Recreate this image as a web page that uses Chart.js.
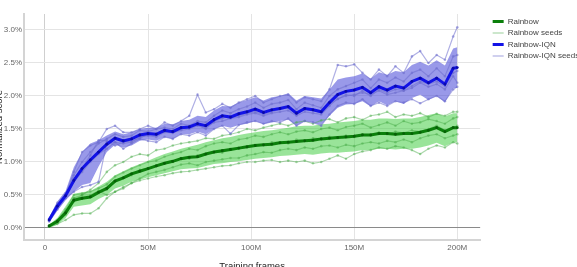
<!DOCTYPE html>
<html>
<head>
<meta charset="utf-8">
<script src="https://cdn.jsdelivr.net/npm/chart.js@4.4.1/dist/chart.umd.min.js"></script>
<style>
html,body{margin:0;padding:0;background:#fff;overflow:hidden;}
#wrap{position:relative;width:577px;height:267px;overflow:hidden;background:#fff;}
#c{position:absolute;left:0;top:0;}
</style>
</head>
<body>
<div id="wrap"><canvas id="c" width="587" height="272"></canvas></div>
<script>
// Training frames (millions)
const frames = [2,6,10,14,18,22,26,30,34,38,42,46,50,54,58,62,66,70,74,78,82,86,90,94,98,102,106,110,114,118,122,126,130,134,138,142,146,150,154,158,162,166,170,174,178,182,186,190,194,198,200];

// Rainbow (normalized score, %)
const rainbowMean = [0.03,0.10,0.23,0.42,0.45,0.47,0.54,0.60,0.71,0.76,0.82,0.86,0.90,0.94,0.98,1.01,1.05,1.07,1.08,1.12,1.15,1.17,1.19,1.21,1.23,1.25,1.26,1.27,1.29,1.30,1.31,1.32,1.33,1.35,1.36,1.37,1.38,1.39,1.41,1.41,1.43,1.43,1.42,1.43,1.43,1.45,1.48,1.52,1.46,1.52,1.52];
const rainbowLow = [0.00,0.05,0.15,0.32,0.34,0.36,0.44,0.50,0.60,0.64,0.70,0.73,0.77,0.80,0.83,0.86,0.89,0.90,0.91,0.94,0.97,0.98,1.00,1.01,1.03,1.05,1.06,1.07,1.09,1.10,1.11,1.12,1.11,1.13,1.14,1.14,1.15,1.16,1.18,1.18,1.20,1.20,1.19,1.20,1.20,1.22,1.25,1.29,1.24,1.30,1.30];
const rainbowHigh = [0.05,0.15,0.33,0.52,0.54,0.56,0.63,0.70,0.80,0.86,0.92,0.97,1.02,1.07,1.12,1.16,1.20,1.23,1.26,1.30,1.33,1.36,1.38,1.41,1.43,1.45,1.47,1.48,1.50,1.52,1.54,1.55,1.55,1.57,1.58,1.60,1.61,1.62,1.64,1.64,1.66,1.66,1.65,1.66,1.66,1.68,1.71,1.74,1.69,1.74,1.74];
const rainbowSeed1 = [0.02,0.08,0.20,0.40,0.50,0.58,0.68,0.85,0.95,1.00,1.08,1.12,1.10,1.18,1.20,1.25,1.28,1.30,1.32,1.36,1.35,1.40,1.42,1.45,1.50,1.48,1.52,1.55,1.58,1.55,1.60,1.62,1.58,1.63,1.65,1.60,1.66,1.68,1.64,1.70,1.72,1.76,1.68,1.72,1.70,1.74,1.68,1.73,1.70,1.76,1.76];
const rainbowSeed2 = [0.03,0.12,0.28,0.50,0.52,0.55,0.60,0.66,0.78,0.84,0.90,0.95,1.00,1.02,1.08,1.12,1.15,1.20,1.18,1.24,1.28,1.30,1.28,1.34,1.36,1.40,1.38,1.42,1.45,1.42,1.46,1.48,1.45,1.50,1.52,1.48,1.53,1.55,1.58,1.52,1.56,1.60,1.55,1.62,1.58,1.60,1.65,1.62,1.58,1.66,1.68];
const rainbowSeed3 = [0.03,0.10,0.25,0.45,0.46,0.48,0.56,0.58,0.72,0.76,0.80,0.88,0.90,0.95,0.98,1.00,1.06,1.05,1.10,1.12,1.15,1.14,1.20,1.20,1.22,1.26,1.25,1.30,1.30,1.28,1.34,1.32,1.36,1.35,1.38,1.36,1.40,1.38,1.42,1.40,1.45,1.42,1.46,1.44,1.48,1.46,1.50,1.55,1.48,1.52,1.55];
const rainbowSeed4 = [0.03,0.10,0.22,0.45,0.50,0.50,0.56,0.50,0.55,0.60,0.68,0.75,0.82,0.85,0.88,0.92,0.96,0.98,0.95,1.00,1.02,1.04,1.06,1.06,1.10,1.12,1.15,1.14,1.18,1.20,1.18,1.22,1.20,1.24,1.25,1.22,1.26,1.24,1.28,1.30,1.28,1.32,1.30,1.34,1.30,1.36,1.40,1.42,1.36,1.40,1.42];
const rainbowSeed5 = [0.02,0.06,0.12,0.20,0.22,0.22,0.30,0.45,0.55,0.62,0.68,0.72,0.75,0.78,0.80,0.83,0.85,0.86,0.88,0.90,0.92,0.94,0.95,0.98,1.00,1.00,1.02,1.03,1.00,1.02,1.00,1.02,0.98,1.00,1.05,1.10,1.05,1.12,1.16,1.18,1.22,1.20,1.24,1.22,1.18,1.12,1.20,1.25,1.22,1.30,1.28];

// Rainbow-IQN (normalized score, %)
const iqnMean = [0.12,0.33,0.49,0.72,0.90,1.03,1.15,1.27,1.36,1.32,1.35,1.41,1.43,1.42,1.48,1.46,1.52,1.53,1.58,1.55,1.64,1.70,1.68,1.73,1.76,1.80,1.75,1.79,1.81,1.84,1.74,1.81,1.79,1.76,1.90,2.02,2.07,2.09,2.13,2.05,2.14,2.09,2.15,2.12,2.22,2.27,2.20,2.27,2.18,2.42,2.43];
const iqnLow = [0.08,0.26,0.42,0.55,0.65,0.68,0.93,1.15,1.26,1.22,1.25,1.32,1.34,1.32,1.38,1.35,1.42,1.42,1.46,1.42,1.50,1.55,1.52,1.56,1.58,1.62,1.57,1.60,1.62,1.64,1.55,1.62,1.60,1.56,1.70,1.82,1.87,1.88,1.92,1.84,1.92,1.86,1.92,1.88,1.97,2.02,1.94,2.00,1.90,2.12,2.12];
const iqnHigh = [0.16,0.40,0.56,0.92,1.15,1.28,1.33,1.40,1.46,1.42,1.45,1.50,1.52,1.52,1.58,1.57,1.62,1.64,1.70,1.68,1.78,1.85,1.84,1.90,1.94,1.98,1.93,1.98,2.00,2.04,1.93,2.00,1.98,1.96,2.10,2.25,2.28,2.30,2.34,2.26,2.36,2.32,2.38,2.36,2.47,2.52,2.46,2.54,2.46,2.72,2.74];
const iqnSeed1 = [0.12,0.35,0.50,0.85,1.15,1.25,1.30,1.50,1.55,1.45,1.45,1.50,1.55,1.50,1.60,1.55,1.62,1.70,2.02,1.75,1.80,1.88,1.82,1.90,1.95,2.00,1.90,1.95,2.00,2.02,1.90,1.98,1.95,1.92,2.10,2.47,2.45,2.48,2.35,2.25,2.40,2.30,2.45,2.35,2.60,2.68,2.50,2.62,2.55,2.90,3.04];
const iqnSeed2 = [0.14,0.38,0.52,0.80,1.00,1.15,1.28,1.35,1.42,1.38,1.40,1.48,1.46,1.50,1.52,1.50,1.58,1.55,1.62,1.60,1.70,1.78,1.74,1.80,1.84,1.90,1.82,1.88,1.90,1.94,1.80,1.90,1.86,1.82,2.00,2.10,2.15,2.20,2.25,2.12,2.25,2.20,2.28,2.22,2.35,2.40,2.30,2.42,2.30,2.60,2.62];
const iqnSeed3 = [0.12,0.32,0.48,0.70,0.85,1.00,1.12,1.20,1.30,1.28,1.30,1.38,1.40,1.38,1.45,1.44,1.50,1.52,1.56,1.50,1.62,1.66,1.70,1.70,1.74,1.76,1.72,1.76,1.80,1.82,1.72,1.80,1.78,1.75,1.88,1.95,2.02,2.00,2.08,2.00,2.10,2.05,2.10,2.08,2.15,2.22,2.18,2.22,2.15,2.35,2.38];
const iqnSeed4 = [0.11,0.30,0.50,0.75,0.90,1.10,1.33,1.32,1.25,1.30,1.32,1.36,1.42,1.40,1.46,1.45,1.48,1.50,1.55,1.52,1.60,1.62,1.66,1.68,1.72,1.74,1.70,1.74,1.76,1.78,1.70,1.76,1.74,1.72,1.85,1.96,2.00,2.02,2.05,2.02,2.08,2.02,2.05,2.08,2.12,2.20,2.14,2.18,2.10,2.30,2.20];
const iqnSeed5 = [0.10,0.28,0.45,0.55,0.62,0.65,0.70,1.30,1.30,1.20,1.28,1.35,1.32,1.30,1.38,1.35,1.42,1.40,1.45,1.40,1.50,1.55,1.43,1.56,1.60,1.62,1.58,1.62,1.60,1.66,1.55,1.62,1.60,1.55,1.72,1.85,1.90,1.88,1.95,1.85,1.90,1.85,1.92,1.90,1.95,1.89,1.95,2.00,1.92,2.10,2.14];

// Axis ticks
const xTickValues = [0,50,100,150,200];
const yTickValues = [0,0.5,1.0,1.5,2.0,2.5,3.0];
const legendNames = ['Rainbow','Rainbow seeds','Rainbow-IQN','Rainbow-IQN seeds'];

const pts = arr => arr.map((v,i)=>({x:frames[i], y:v}));

const GREEN = '#0b7f0b', GREEN_BAND = 'rgba(70,205,70,0.55)', GREEN_SEED = 'rgba(70,170,70,0.45)';
const BLUE = '#1212e6', BLUE_BAND = 'rgba(70,70,215,0.55)', BLUE_SEED = 'rgba(110,110,205,0.55)';

function seedDs(arr, color, order){
  return {data:pts(arr), borderColor:color, backgroundColor:color, borderWidth:1.2, pointRadius:1.3, pointBorderWidth:0, pointBackgroundColor:color, fill:false, order:order};
}
function bandLow(arr){ return {data:pts(arr), borderWidth:0, pointRadius:0, fill:false, order:50}; }
function bandHigh(arr, color, target){ return {data:pts(arr), borderWidth:0, pointRadius:0, backgroundColor:color, fill:{target:target}, order:50}; }

const datasets = [
  bandLow(rainbowLow),                         // 0
  bandHigh(rainbowHigh, GREEN_BAND, 0),        // 1
  bandLow(iqnLow),                             // 2
  bandHigh(iqnHigh, BLUE_BAND, 2),             // 3
  seedDs(rainbowSeed1, GREEN_SEED, 40),
  seedDs(rainbowSeed2, GREEN_SEED, 40),
  seedDs(rainbowSeed3, GREEN_SEED, 40),
  seedDs(rainbowSeed4, GREEN_SEED, 40),
  seedDs(rainbowSeed5, GREEN_SEED, 40),
  seedDs(iqnSeed1, BLUE_SEED, 30),
  seedDs(iqnSeed2, BLUE_SEED, 30),
  seedDs(iqnSeed3, BLUE_SEED, 30),
  seedDs(iqnSeed4, BLUE_SEED, 30),
  seedDs(iqnSeed5, BLUE_SEED, 30),
  {label:legendNames[0], data:pts(rainbowMean), borderColor:GREEN, backgroundColor:GREEN, borderWidth:3, pointRadius:1.4, pointBorderWidth:0, pointBackgroundColor:'#075f07', fill:false, order:2},
  {label:legendNames[2], data:pts(iqnMean), borderColor:BLUE, backgroundColor:BLUE, borderWidth:3, pointRadius:1.4, pointBorderWidth:0, pointBackgroundColor:'#0a0aa8', fill:false, order:1}
];

const FONT = "'Liberation Sans', Arial, sans-serif";

new Chart(document.getElementById('c'), {
  type:'line',
  data:{datasets},
  options:{
    responsive:false, animation:false, devicePixelRatio:1,
    layout:{padding:{top:14, left:0, right:0, bottom:0}},
    elements:{line:{tension:0}},
    plugins:{
      tooltip:{enabled:false},
      legend:{
        position:'right', align:'start',
        labels:{
          font:{family:FONT, size:8}, color:'#444', padding:3.5,
          usePointStyle:true, pointStyleWidth:11,
          generateLabels: () => [
            {text:legendNames[0], strokeStyle:GREEN, fillStyle:GREEN, lineWidth:3, pointStyle:'line', hidden:false, datasetIndex:14, fontColor:'#444'},
            {text:legendNames[1], strokeStyle:'rgba(70,170,70,0.55)', fillStyle:GREEN_SEED, lineWidth:1, pointStyle:'line', hidden:false, datasetIndex:4, fontColor:'#444'},
            {text:legendNames[2], strokeStyle:BLUE, fillStyle:BLUE, lineWidth:3, pointStyle:'line', hidden:false, datasetIndex:15, fontColor:'#444'},
            {text:legendNames[3], strokeStyle:'rgba(110,110,205,0.65)', fillStyle:BLUE_SEED, lineWidth:1, pointStyle:'line', hidden:false, datasetIndex:9, fontColor:'#444'}
          ]
        }
      }
    },
    scales:{
      x:{
        type:'linear', min:-10.17, max:211.1,
        afterBuildTicks: s => { s.ticks = xTickValues.map(v=>({value:v})); },
        afterFit: s => { s.height = 32; },
        grid:{color: c => c.tick && c.tick.value===0 ? '#cfcfcf' : '#e4e4e4', lineWidth:1, drawTicks:false},
        border:{display:true, color:'#d4d4d4', width:2},
        ticks:{padding:3, font:{family:FONT, size:8}, color:'#666', maxRotation:0,
          callback: v => v===0 ? '0' : v + 'M'},
        title:{display:true, text:'Training frames', font:{family:FONT, size:9.5}, color:'#222', padding:{top:0,bottom:0}}
      },
      y:{
        type:'linear', min:-0.182, max:3.242,
        afterBuildTicks: s => { s.ticks = yTickValues.map(v=>({value:v})); },
        afterFit: s => { s.width = 24; },
        grid:{color: c => c.tick && c.tick.value===0 ? '#8a8a8a' : '#e4e4e4', lineWidth:1, drawTicks:false},
        border:{display:true, color:'#d4d4d4', width:2},
        ticks:{padding:2, font:{family:FONT, size:8}, color:'#666',
          callback: v => v.toFixed(1) + '%'},
        title:{display:true, text:'Normalized score', font:{family:FONT, size:9.5}, color:'#222', padding:{top:-6,bottom:0}}
      },
      y2:{
        type:'linear', position:'right', display:true,
        grid:{display:false, drawTicks:false}, border:{display:false},
        ticks:{display:false},
        afterFit: s => { s.width = 9; }
      }
    }
  }
});
</script>
</body>
</html>
